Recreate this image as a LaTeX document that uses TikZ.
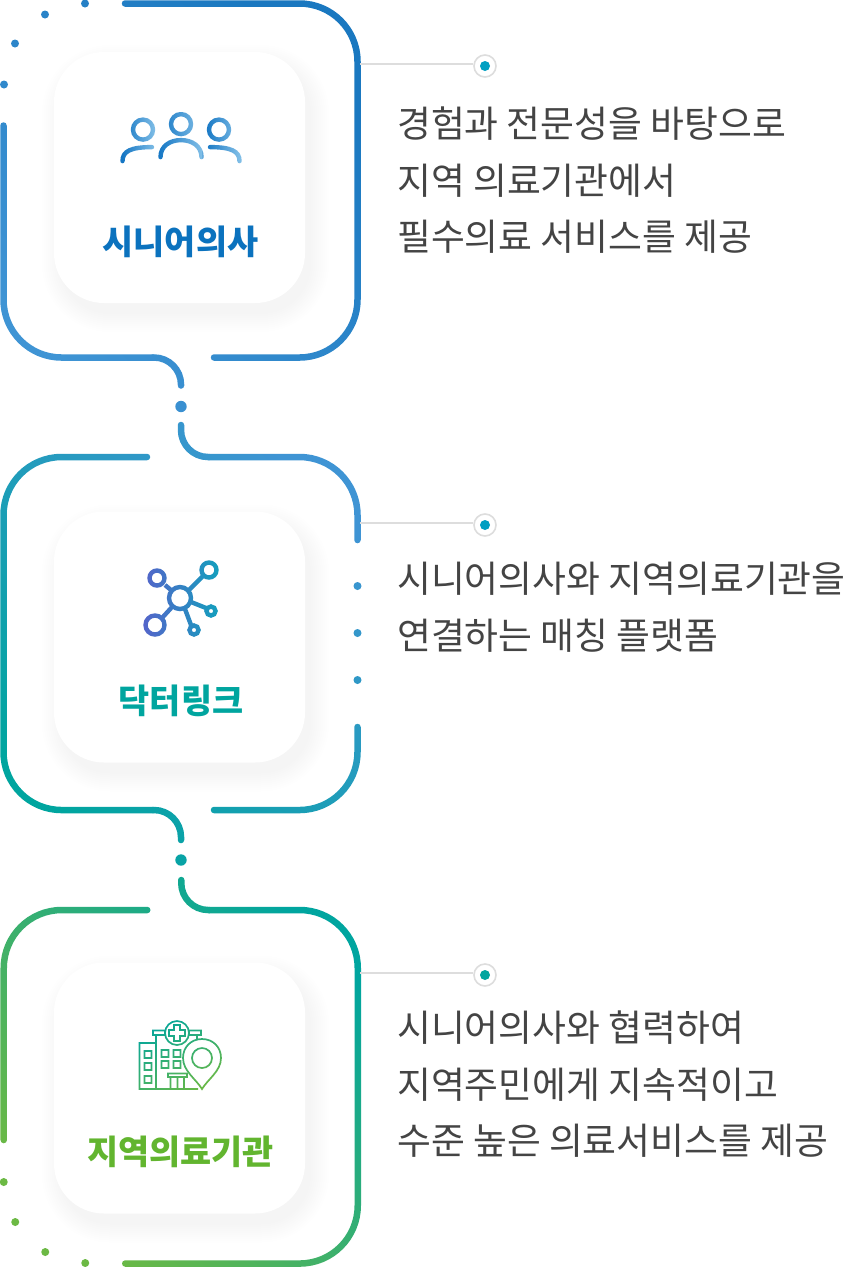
\documentclass[tikz,border=0pt]{standalone}
\usepackage{fontspec}
\usepackage{xcolor}
\usepackage{tikz}
\usetikzlibrary{fadings}
\newfontfamily\krfont{Noto Sans CJK KR}

\definecolor{ringA}{HTML}{1A78C0}
\definecolor{ringB}{HTML}{3F94D4}
\definecolor{ringC}{HTML}{00A59F}
\definecolor{ringD}{HTML}{6CB944}
\definecolor{peopledark}{HTML}{1476C4}
\definecolor{peoplelight}{HTML}{7FBDE6}
\definecolor{leadgray}{HTML}{DDDDDD}
\definecolor{bodygray}{HTML}{444444}
\definecolor{tipblue}{HTML}{009FC2}
\definecolor{titleblue}{HTML}{0B72BE}
\definecolor{titlegreen}{HTML}{62B52F}
\definecolor{linkleft}{HTML}{5A5FCB}
\definecolor{linkright}{HTML}{0FA3BC}

\pgfdeclarehorizontalshading{peopleshade}{100bp}{color(0bp)=(peopledark); color(26.6bp)=(peopledark); color(39.8bp)=(peoplelight); color(41bp)=(peopledark); color(58.2bp)=(peoplelight); color(59.8bp)=(peopledark); color(73.4bp)=(peoplelight); color(100bp)=(peoplelight)}

\tikzset{
	ringline/.style={transparent!0, line width=6.5pt, line cap=round},
	ringdot/.style={transparent!0, fill},
	iconline/.style={transparent!0, line width=4.4pt, line cap=round},
	thinline/.style={transparent!0, line width=1.7pt},
	cardbox/.style={fill=white, minimum width=251pt, minimum height=251pt, rounded corners=50pt, inner sep=0pt},
	cardtitle/.style={font=\krfont\bfseries\fontsize{33.8}{40}\selectfont, inner sep=0pt},
	bodytext/.style={font=\krfont\fontsize{36.8}{56.5}\selectfont, text=bodygray, align=left, anchor=west, inner sep=0pt},
	leadline/.style={color=leadgray, line width=1.6pt},
	leadring/.style={circle, draw=leadgray, line width=1.6pt, fill=white, minimum size=22pt, inner sep=0pt}
}

% soft edge under a card, x y of its centre
\newcommand{\cardshadow}[2]{
	\foreach \g in {0,2,...,18}
		\fill[black, opacity=0.004, rounded corners=50pt+\g pt] (#1-125.5-\g+6,#2-125.5-\g+11) rectangle (#1+125.5+\g+6,#2+125.5+\g+11);
}

\begin{tikzfadingfrompicture}[name=ringonefade, x=1pt, y=-1pt]
	\path (0,0) rectangle (362,416);
	\draw[ringline, rounded corners=58pt] (125,3) -- (357.5,3) -- (357.5,357) -- (214,357);
	\draw[ringline, rounded corners=58pt] (3.5,125) -- (3.5,357) -- (153,357);
	\draw[ringline, rounded corners=27pt] (153,357) -- (181,357) -- (181,385);
	\foreach \x/\y in {85/3, 45/14, 15/43, 4/84}
		\fill[ringdot] (\x,\y) circle (4pt);
	\fill[ringdot] (181,406) circle (5.7pt);
\end{tikzfadingfrompicture}

\begin{tikzfadingfrompicture}[name=ringtwofade, x=1pt, y=-1pt]
	\path (0,416) rectangle (362,870);
	\draw[ringline, rounded corners=27pt] (181,425) -- (181,457) -- (209,457);
	\draw[ringline, rounded corners=58pt] (209,457) -- (357.5,457) -- (357.5,540);
	\draw[ringline, rounded corners=58pt] (147,457) -- (3.5,457) -- (3.5,810) -- (153,810);
	\draw[ringline, rounded corners=27pt] (153,810) -- (181,810) -- (181,840);
	\draw[ringline, rounded corners=58pt] (357.5,727) -- (357.5,810) -- (214,810);
	\foreach \y in {586, 633, 680}
		\fill[ringdot] (357.5,\y) circle (4pt);
	\fill[ringdot] (181,860) circle (5.7pt);
\end{tikzfadingfrompicture}

\begin{tikzfadingfrompicture}[name=ringthreefade, x=1pt, y=-1pt]
	\path (0,870) rectangle (362,1267);
	\draw[ringline, rounded corners=27pt] (181,880) -- (181,910) -- (209,910);
	\draw[ringline, rounded corners=58pt] (209,910) -- (357.5,910) -- (357.5,1263.5) -- (125,1263.5);
	\draw[ringline, rounded corners=58pt] (147,910) -- (3.5,910) -- (3.5,1140);
	\foreach \x/\y in {3.5/1182, 15/1222, 45/1252, 85/1263}
		\fill[ringdot] (\x,\y) circle (4pt);
\end{tikzfadingfrompicture}

\begin{tikzfadingfrompicture}[name=peoplefade, x=1pt, y=-1pt]
	\path (118,112) rectangle (243,166);
	\draw[iconline] (143,129.5) circle (10pt);
	\draw[iconline] (181,124) circle (10pt);
	\draw[iconline] (219,129.5) circle (10pt);
	\draw[iconline] (122.5,161) .. controls (122.5,151) and (131,147) .. (152,147);
	\draw[iconline] (160.5,157) .. controls (160.5,146) and (170,140) .. (181,140) .. controls (192,140) and (201.5,146) .. (201.5,157);
	\draw[iconline] (210,147) .. controls (231,147) and (239.5,151) .. (239.5,161);
\end{tikzfadingfrompicture}

\begin{tikzfadingfrompicture}[name=linkfade, x=1pt, y=-1pt]
	\path (136,556) rectangle (224,642);
	\draw[iconline] (180,598) circle (11pt);
	\draw[iconline] (157,578) circle (7.5pt);
	\draw[iconline] (209,570) circle (7.5pt);
	\draw[iconline] (155,625) circle (9.5pt);
	\draw[iconline] (211,611) circle (4.5pt);
	\draw[iconline] (194,630) circle (4.5pt);
	\draw[iconline, line cap=butt] (165,585) -- (171,590);
	\draw[iconline, line cap=butt] (189,590) -- (203,576);
	\draw[iconline, line cap=butt] (162,618) -- (172,607);
	\draw[iconline, line cap=butt] (191,602) -- (206,608);
	\draw[iconline, line cap=butt] (185,609) -- (191,625);
\end{tikzfadingfrompicture}

\begin{tikzfadingfrompicture}[name=hospitalfade, x=1pt, y=-1pt]
	\path (134,1016) rectangle (226,1094);
	\draw[thinline] (156,1043) -- (139.5,1043) -- (139.5,1089) -- (198,1089);
	\draw[thinline] (156,1035) -- (156,1089);
	\draw[thinline] (197,1035) -- (197,1050);
	\draw[thinline] (153,1030.5) rectangle (165,1035);
	\draw[thinline] (189,1030.5) rectangle (201,1035);
	\draw[thinline] (165,1035) -- (189,1035);
	\foreach \y in {1051, 1063, 1076}
		\draw[thinline] (144.5,\y) rectangle (151.5,\y+7);
	\foreach \x in {161.5, 173.5}
		\foreach \y in {1050, 1061}
			\draw[thinline] (\x,\y) rectangle (\x+7,\y+7);
	\draw[thinline] (168,1073.5) rectangle (187,1077);
	\draw[thinline] (170.5,1077) -- (170.5,1089);
	\draw[thinline] (177.5,1077) -- (177.5,1089);
	\draw[thinline] (184,1077) -- (184,1089);
	\draw[thinline, fill=transparent!100] (177,1033) circle (12pt);
	\draw[thinline] (174,1025) -- (180,1025) -- (180,1030) -- (185,1030) -- (185,1036) -- (180,1036) -- (180,1041) -- (174,1041) -- (174,1036) -- (169,1036) -- (169,1030) -- (174,1030) -- cycle;
	\draw[thinline, fill=transparent!100] (202,1089) .. controls (196,1079) and (183,1071) .. (183,1058) .. controls (183,1047) and (191,1039) .. (202,1039) .. controls (213,1039) and (221,1047) .. (221,1058) .. controls (221,1071) and (208,1079) .. (202,1089) -- cycle;
	\draw[thinline] (202,1058) circle (10pt);
\end{tikzfadingfrompicture}

\begin{document}
\begin{tikzpicture}[x=1pt, y=-1pt]
	\useasboundingbox (0,0) rectangle (854,1267);
	\fill[white] (0,0) rectangle (854,1267);

	% cards
	\cardshadow{179.5}{177.5}
	\cardshadow{179.5}{637}
	\cardshadow{179.5}{1088}
	\node[cardbox] (seniorcard) at (179.5,177.5) {};
	\node[cardbox] (linkcard) at (179.5,637) {};
	\node[cardbox] (clinicard) at (179.5,1088) {};

	% rings
	\shade[path fading=ringonefade, fit fading=false, fading transform={xshift=181pt, yshift=-208pt}, top color=ringA, bottom color=ringB, shading angle=-45] (0,0) rectangle (362,416);
	\shade[path fading=ringtwofade, fit fading=false, fading transform={xshift=181pt, yshift=-643pt}, top color=ringB, bottom color=ringC, shading angle=-45] (0,416) rectangle (362,870);
	\shade[path fading=ringthreefade, fit fading=false, fading transform={xshift=181pt, yshift=-1068.5pt}, top color=ringC, bottom color=ringD, shading angle=-45] (0,870) rectangle (362,1267);

	% icons
	\shade[path fading=peoplefade, fit fading=false, fading transform={xshift=180.5pt, yshift=-139pt}, shading=peopleshade] (118,112) rectangle (243,166);
	\shade[path fading=linkfade, fit fading=false, fading transform={xshift=180pt, yshift=-599pt}, left color=linkleft, right color=linkright] (136,556) rectangle (224,642);
	\shade[path fading=hospitalfade, fit fading=false, fading transform={xshift=180pt, yshift=-1055pt}, top color=ringC, bottom color=ringD, shading angle=30] (134,1016) rectangle (226,1094);

	% titles
	\node[cardtitle, text=titleblue] (seniortitle) at (180.5,241.5) {시니어의사};
	\node[cardtitle, text=ringC] (linktitle) at (181,700.5) {닥터링크};
	\node[cardtitle, text=titlegreen] (clinititle) at (180.5,1151.5) {지역의료기관};

	% leaders
	\node[leadring] (seniortip) at (485,66) {};
	\node[leadring] (linktip) at (485,525) {};
	\node[leadring] (clinitip) at (485,975) {};
	\coordinate (seniorlead) at (360,64);
	\coordinate (linklead) at (360,523);
	\coordinate (clinilead) at (360,973);
	\draw[leadline] (seniorlead) -- (seniorlead -| seniortip.west);
	\draw[leadline] (linklead) -- (linklead -| linktip.west);
	\draw[leadline] (clinilead) -- (clinilead -| clinitip.west);
	\fill[color=tipblue] (seniortip) circle (5pt);
	\fill[color=tipblue] (linktip) circle (5pt);
	\fill[color=ringC] (clinitip) circle (5pt);

	% texts
	\node[bodytext] (seniortext) at (397,180.5) {경험과 전문성을 바탕으로\\지역 의료기관에서\\필수의료 서비스를 제공};
	\node[bodytext] (linktext) at (397,607) {시니어의사와 지역의료기관을\\연결하는 매칭 플랫폼};
	\node[bodytext] (clinitext) at (397,1084.5) {시니어의사와 협력하여\\지역주민에게 지속적이고\\수준 높은 의료서비스를 제공};
\end{tikzpicture}
\end{document}
